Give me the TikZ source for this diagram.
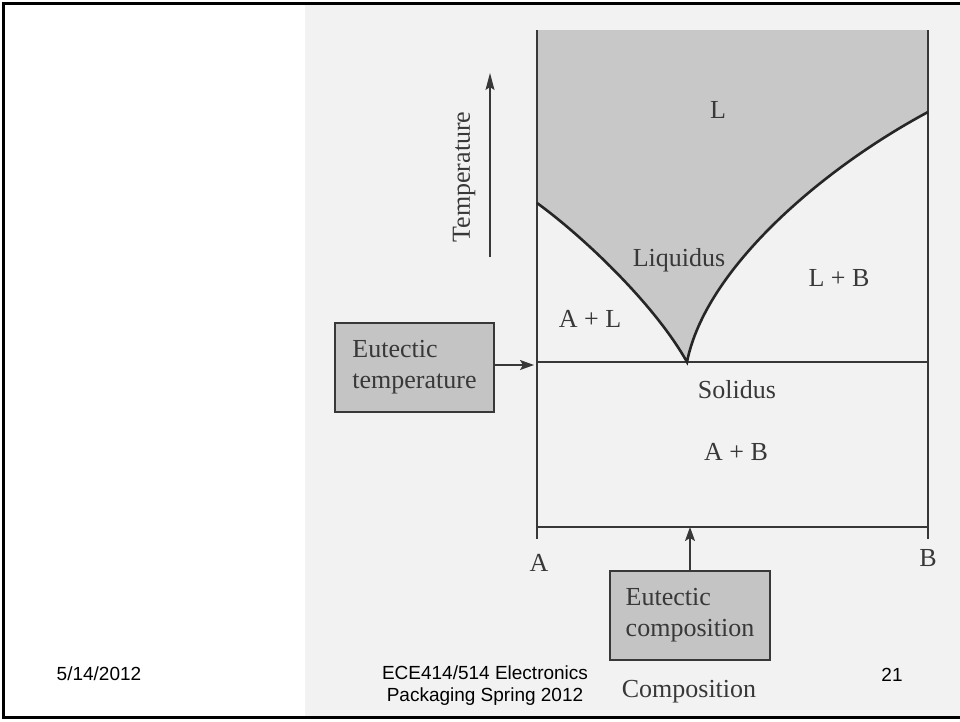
\documentclass[tikz,border=0pt]{standalone}
\usepackage{fontspec}
\setmainfont{Liberation Serif}
\newfontfamily\arialfont{Liberation Sans}
\usepackage{xcolor}
\usepackage{tikz}
\usetikzlibrary{arrows.meta}

\definecolor{scanbg}{HTML}{F2F2F2}
\definecolor{liqfill}{HTML}{C8C8C8}
\definecolor{boxfill}{HTML}{C4C4C4}
\definecolor{ink}{HTML}{383838}

\begin{document}
\begin{tikzpicture}[x=1pt, y=-1pt,
    lbl/.style={font=\fontsize{26}{31}\selectfont, text=ink, inner sep=0pt},
    ebox/.style={draw=ink, line width=1.3pt, fill=boxfill, minimum width=159pt, minimum height=89pt, align=left, font=\fontsize{26}{31}\selectfont, text=ink},
    axis/.style={draw=ink, line width=1.4pt},
    curve/.style={draw=black!85, line width=2.6pt},
    arr/.style={-{Stealth[length=14pt, width=10pt, inset=3pt]}, draw=ink, line width=1.4pt},
    foot/.style={font=\arialfont\fontsize{19}{22}\selectfont, align=center, inner sep=0pt},
]
\useasboundingbox (0,0) rectangle (960,721);

% scanned page and slide frame
\fill[scanbg] (305,5) rectangle (960,716);
\draw[line width=3pt] (960,3) -- (3,3) -- (3,717) -- (960,717);

% corner points of the diagram
\coordinate (topA) at (537,30);
\coordinate (topB) at (928,30);
\coordinate (footA) at (537,539);
\coordinate (footB) at (928,539);
\coordinate (eutA) at (537,362);
\coordinate (eutB) at (928,362);
\coordinate (baseA) at (537,527);
\coordinate (baseB) at (928,527);
\coordinate (eut) at (687,362);
\coordinate (liqA) at (537,203);
\coordinate (liqB) at (928,112);

% liquid region
\fill[liqfill] (topA) -- (topB) -- (liqB) .. controls (820,170) and (705,270) .. (eut)
    .. controls (655,305) and (585,238) .. (liqA) -- cycle;

% axes, solidus and base line
\draw[axis] (topA) -- (footA);
\draw[axis] (topB) -- (footB);
\draw[axis] (eutA) -- (eutB);
\draw[axis] (baseA) -- (baseB);

% liquidus
\draw[curve] (liqA) .. controls (585,238) and (655,305) .. (eut)
    .. controls (705,270) and (820,170) .. (liqB);

% region labels
\node[lbl] (lreg) at (718,110) {L};
\node[lbl] (liquidus) at (679,260) {Liquidus};
\node[lbl] (lb) at (839,278) {L + B};
\node[lbl] (al) at (590,319) {A + L};
\node[lbl] (solidus) at (737,390) {Solidus};
\node[lbl] (ab) at (736,452) {A + B};
\node[lbl] (alab) at (539,563) {A};
\node[lbl] (blab) at (928,558) {B};
\node[lbl] (complbl) at (689,692) {Composition};

% temperature axis
\node[lbl, rotate=90] (templbl) at (464,177) {Temperature};
\coordinate (tlow) at (490,257);
\coordinate (thigh) at (490,73);
\draw[arr, line width=1.1pt, -{Stealth[length=17pt, width=9pt, inset=3pt]}] (tlow) -- (thigh);

% eutectic boxes
\node[ebox] (ttbox) at (414.5,367.5) {Eutectic\\temperature};
\coordinate (ttend) at (534,365);
\draw[arr] (ttbox.east |- ttend) -- (ttend);

\node[ebox, minimum width=160pt] (ctbox) at (690,615.5) {Eutectic\\composition};
\draw[arr] (ctbox.north) -- (ctbox.north |- baseA);

% footer
\node[foot] (date) at (99,674) {5/14/2012};
\node[foot] (course) at (485,686) {ECE414/514 Electronics\\Packaging Spring 2012};
\node[foot] (page) at (892,675) {21};

\end{tikzpicture}
\end{document}
